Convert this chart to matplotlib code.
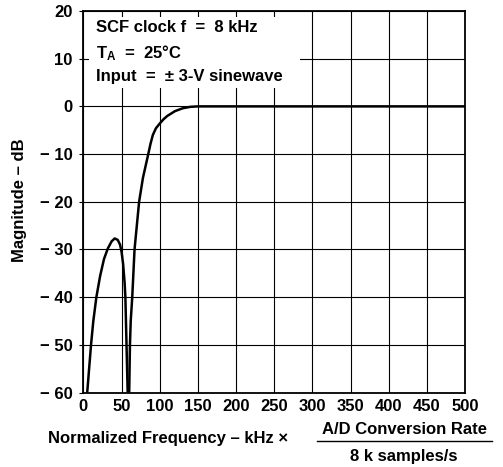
import matplotlib
matplotlib.use("Agg")
import matplotlib.pyplot as plt
from matplotlib.lines import Line2D
from matplotlib.patches import Rectangle

plt.rcParams['font.family'] = ['Liberation Sans', 'DejaVu Sans']
plt.rcParams['font.weight'] = 'bold'
plt.rcParams['mathtext.default'] = 'regular'

# Stopband side-lobe
lobe_freq = [5, 8, 10, 13, 17, 22, 27, 32, 37, 41, 45, 48, 50, 52, 54, 55, 56.5, 58]
lobe_db = [-60, -54, -50, -45, -40, -35.5, -32, -29.8, -28.3, -27.7, -28, -29, -30.5, -33, -37, -40, -50, -60]

# Main passband response
pass_freq = [60, 61, 62, 64, 67, 70, 73, 78, 85, 88, 91, 95, 100, 105, 110, 120, 130, 140, 150, 500]
pass_db = [-60, -50, -45, -40, -30, -25, -20, -15, -10, -7.8, -6, -4.6, -3.6, -2.7, -2, -1, -0.4, -0.1, 0, 0]

x_ticks = [0, 50, 100, 150, 200, 250, 300, 350, 400, 450, 500]
y_ticks = [20, 10, 0, -10, -20, -30, -40, -50, -60]
y_tick_labels = ['20', '10', '0', '\u2212 10', '\u2212 20', '\u2212 30', '\u2212 40', '\u2212 50', '\u2212 60']

notes = ['SCF clock f  =  8 kHz', 'T$_{A}$  =  25\u00b0C', 'Input  =  \u00b1 3-V sinewave']

FS = 12
W, H = 503, 467
fig = plt.figure(figsize=(W / 100, H / 100), dpi=100)
ax = fig.add_axes([83.4 / W, 1 - 392.5 / H, 381.6 / W, 381.5 / H])

ax.set_xlim(0, 500)
ax.set_ylim(-60, 20)
ax.set_xticks(x_ticks)
ax.set_xticklabels([str(v) for v in x_ticks])
ax.set_yticks(y_ticks)
ax.set_yticklabels(y_tick_labels)
ax.tick_params(axis='both', length=0, labelsize=FS, pad=5, colors='black')
ax.tick_params(axis='y', length=3, direction='out', width=0.8)
ax.set_axisbelow(True)
ax.grid(True, color='black', linewidth=0.8)
for sp in ax.spines.values():
    sp.set_linewidth(1.3)
    sp.set_zorder(4)

# white box behind notes (grid interrupted)
ax.add_patch(Rectangle((6 / 381.6, 1 - 77 / 381.5), 211 / 381.6, 71 / 381.5,
                       transform=ax.transAxes, facecolor='white', edgecolor='none', zorder=2))

ax.plot(lobe_freq, lobe_db, color='black', linewidth=1.8, zorder=3, solid_capstyle='butt')
ax.plot(pass_freq, pass_db, color='black', linewidth=1.8, zorder=3, solid_capstyle='butt')

for i, t in enumerate(notes):
    y = [28, 53, 76][i]
    fig.text(96 / W, 1 - y / H, t, fontsize=FS, ha='left', va='center', zorder=5)

fig.text(20 / W, 1 - 200 / H, 'Magnitude \u2013 dB', rotation=90, fontsize=FS,
         ha='center', va='center')

fig.text(48 / W, 1 - 438 / H, 'Normalized Frequency \u2013 kHz \u00d7', fontsize=FS,
         ha='left', va='center')
fig.text(404 / W, 1 - 429 / H, 'A/D Conversion Rate', fontsize=FS, ha='center', va='center')
fig.text(404 / W, 1 - 456 / H, '8 k samples/s', fontsize=FS, ha='center', va='center')
fig.add_artist(Line2D([317 / W, 492 / W], [1 - 441 / H, 1 - 441 / H], color='black',
                      linewidth=1.0, transform=fig.transFigure))

fig.savefig('out.png', dpi=100)
